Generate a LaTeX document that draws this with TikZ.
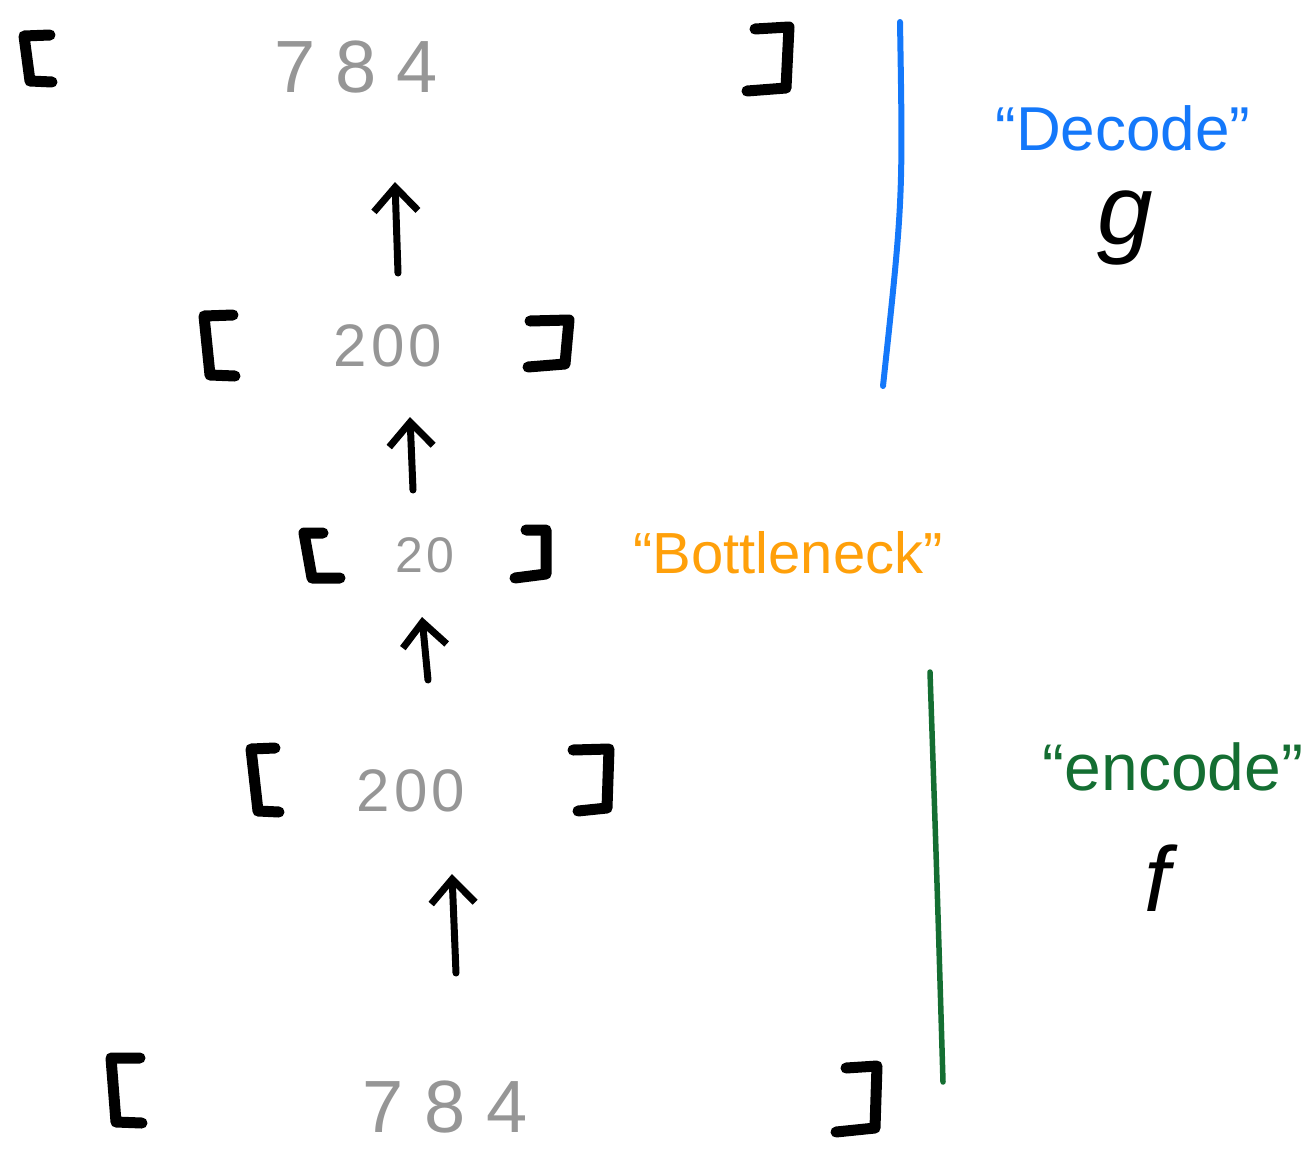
\documentclass[tikz,border=0pt]{standalone}
\usepackage{fontspec}
\setmainfont{Liberation Sans}
\usetikzlibrary{arrows.meta}
\definecolor{numgray}{RGB}{150,150,150}
\definecolor{decblue}{RGB}{20,120,250}
\definecolor{bnorange}{RGB}{255,160,10}
\definecolor{encgreen}{RGB}{20,110,50}
\tikzset{
  brk/.style={line width=11pt, line cap=round, line join=round, black},
  num/.style={numgray, inner sep=0pt},
  upar/.style={line width=7pt, line cap=round, black,
    -{Straight Barb[length=24pt,width=44pt,line width=7pt]}},
  lbl/.style={inner sep=0pt},
}
\begin{document}
\begin{tikzpicture}[x=1pt,y=-1pt]
\useasboundingbox (0,0) rectangle (1312,1149);
% vectors
\node[num, font=\fontsize{74}{74}\selectfont] (n1) at (356,67) {7\hspace{20pt}8\hspace{20pt}4};
\node[num, font=\fontsize{60}{60}\selectfont] (n2) at (388,346) {2\hspace{4pt}0\hspace{4pt}0};
\node[num, font=\fontsize{50}{50}\selectfont] (n3) at (425,555) {2\hspace{3pt}0};
\node[num, font=\fontsize{60}{60}\selectfont] (n4) at (411,791) {2\hspace{4pt}0\hspace{4pt}0};
\node[num, font=\fontsize{74}{74}\selectfont] (n5) at (445,1107) {7\hspace{21pt}8\hspace{21pt}4};
% brackets
\draw[brk] (50,35) -- (24,36) -- (30,81) -- (52,82);
\draw[brk] (755,29) -- (789,27) -- (786,88) -- (747,91);
\draw[brk] (233,315) -- (204,316) -- (210,375) -- (235,376);
\draw[brk] (530,321) -- (569,320) -- (565,364) -- (528,367);
\draw[brk] (323,533) -- (304,533) -- (312,578) -- (340,578);
\draw[brk] (526,530) -- (546,530) -- (546,574) -- (515,578);
\draw[brk] (275,748) -- (251,749) -- (258,811) -- (279,812);
\draw[brk] (573,750) -- (609,749) -- (607,808) -- (578,811);
\draw[brk] (140,1058) -- (111,1058) -- (116,1122) -- (142,1123);
\draw[brk] (846,1068) -- (877,1066) -- (875,1128) -- (836,1132);
% arrow end points
\coordinate (a1t) at (398,273); \coordinate (a1h) at (395,182);
\coordinate (a2t) at (413,490); \coordinate (a2h) at (410,417);
\coordinate (a3t) at (428,680); \coordinate (a3h) at (422,617);
\coordinate (a4t) at (456,973); \coordinate (a4h) at (452,874);
\draw[upar] (a1t) -- (a1h);
\draw[upar] (a2t) -- (a2h);
\draw[upar] (a3t) -- (a3h);
\draw[upar] (a4t) -- (a4h);
% side lines
\coordinate (d1) at (900,22); \coordinate (d2) at (883,386);
\draw[decblue, line width=6pt, line cap=round] (d1) .. controls (903,200) .. (d2);
\coordinate (e1) at (930,672); \coordinate (e2) at (943,1082);
\draw[encgreen, line width=5.5pt, line cap=round] (e1) .. controls (937,880) .. (e2);
% labels
\node[lbl, bnorange, font=\fontsize{58}{58}\selectfont] (bn) at (788,553) {“Bottleneck”};
\node[lbl, decblue, font=\fontsize{62}{62}\selectfont] (dec) at (1123,128) {“Decode”};
\node[lbl, font=\fontsize{100}{100}\selectfont\itshape] (g) at (1125,228) {g};
\node[lbl, encgreen, font=\fontsize{66}{66}\selectfont] (enc) at (1173,767) {“encode”};
\node[lbl, font=\fontsize{92}{92}\selectfont\itshape] (f) at (1157,878) {f};
\end{tikzpicture}
\end{document}
